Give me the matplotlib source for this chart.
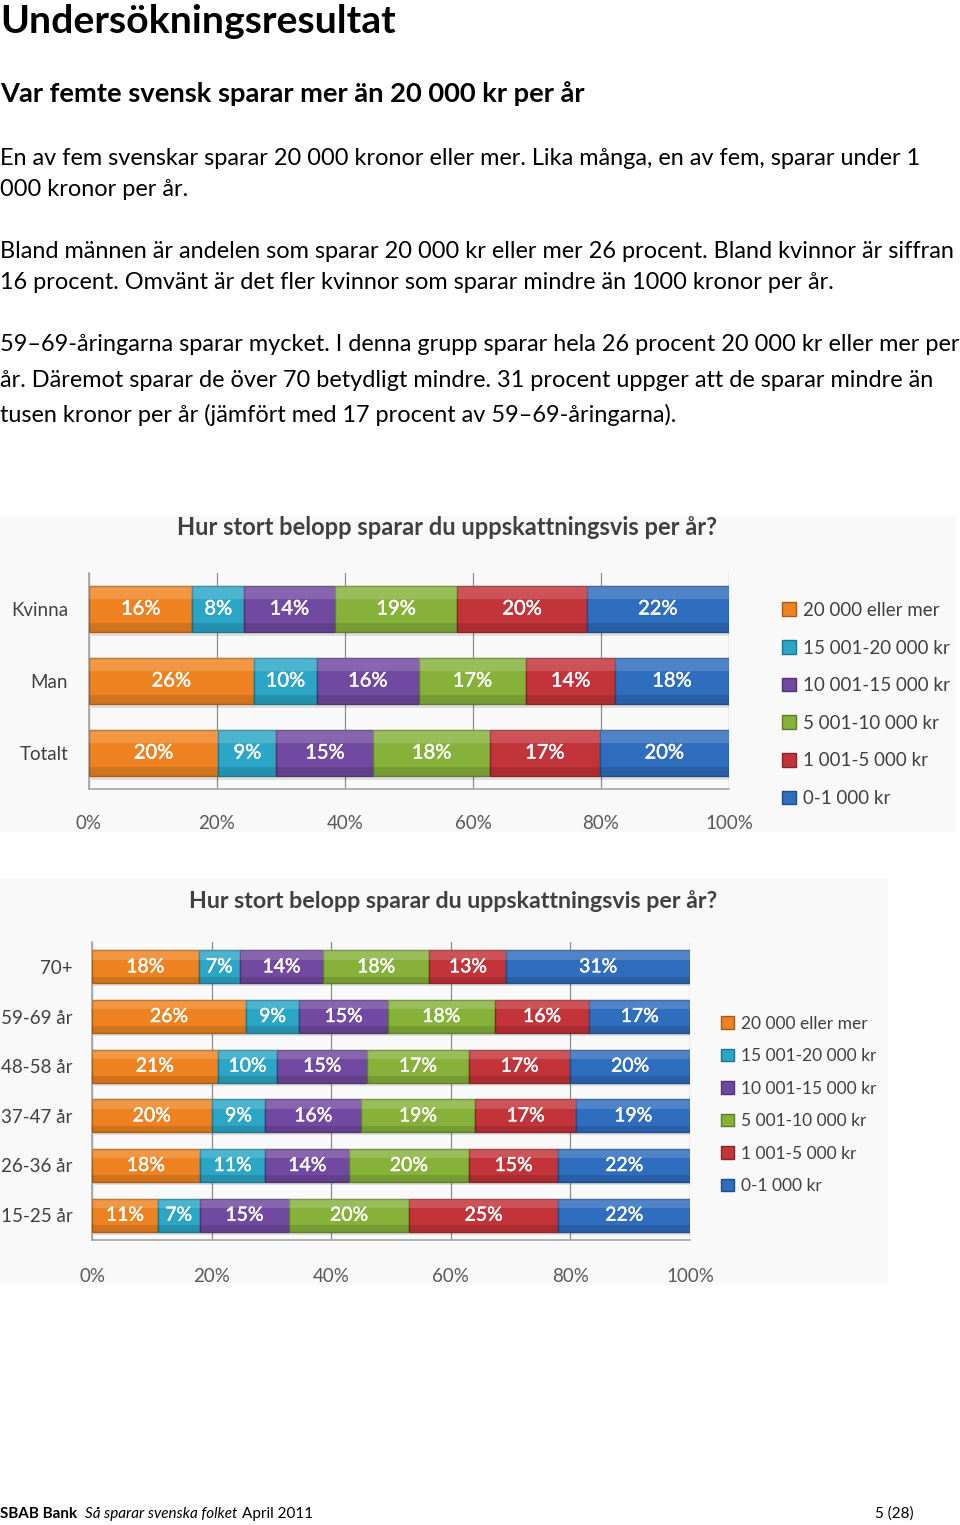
import matplotlib
matplotlib.use("Agg")
import matplotlib.pyplot as plt
import matplotlib.patches as mpatches
import matplotlib.patheffects as pe
import numpy as np

plt.rcParams['font.family'] = ['Lato', 'DejaVu Sans']

# ---------------- data ----------------
series_labels = ["20 000 eller mer", "15 001-20 000 kr", "10 001-15 000 kr",
                 "5 001-10 000 kr", "1 001-5 000 kr", "0-1 000 kr"]
series_colors = ["#EF8220", "#2BA6C6", "#7149A0", "#86B23A", "#C3343A", "#2F6DBE"]

gender_cats = ["Kvinna", "Man", "Totalt"]
gender_20000 = [16, 26, 20]
gender_15001 = [8, 10, 9]
gender_10001 = [14, 16, 15]
gender_5001 = [19, 17, 18]
gender_1001 = [20, 14, 17]
gender_0 = [22, 18, 20]

age_cats = ["70+", "59-69 år", "48-58 år", "37-47 år", "26-36 år", "15-25 år"]
age_20000 = [18, 26, 21, 20, 18, 11]
age_15001 = [7, 9, 10, 9, 11, 7]
age_10001 = [14, 15, 15, 16, 14, 15]
age_5001 = [18, 18, 17, 19, 20, 20]
age_1001 = [13, 16, 17, 17, 15, 25]
age_0 = [31, 17, 20, 19, 22, 22]

xticks = [0, 20, 40, 60, 80, 100]
xtick_labels = ["0%", "20%", "40%", "60%", "80%", "100%"]

chart_title = "Hur stort belopp sparar du uppskattningsvis per år?"

heading = "Undersökningsresultat"
subheading = "Var femte svensk sparar mer än 20 000 kr per år"
body_lines = [
    "En av fem svenskar sparar 20 000 kronor eller mer. Lika många, en av fem, sparar under 1",
    "000 kronor per år.",
    "Bland männen är andelen som sparar 20 000 kr eller mer 26 procent. Bland kvinnor är siffran",
    "16 procent. Omvänt är det fler kvinnor som sparar mindre än 1000 kronor per år.",
    "59–69-åringarna sparar mycket. I denna grupp sparar hela 26 procent 20 000 kr eller mer per",
    "år. Däremot sparar de över 70 betydligt mindre. 31 procent uppger att de sparar mindre än",
    "tusen kronor per år (jämfört med 17 procent av 59–69-åringarna).",
]

# ---------------- layout ----------------
W, H = 960, 1525
fig = plt.figure(figsize=(W / 100, H / 100), dpi=100)
fig.patch.set_facecolor("white")
renderer = fig.canvas.get_renderer()


def fx(x):
    return x / W


def fy(y):
    return 1 - y / H


def fit_text(x, y, s, width, ha="left", **kw):
    t = fig.text(fx(x), fy(y), s, ha=ha, va="baseline", fontsize=10, **kw)
    w = t.get_window_extent(renderer).width
    fs = 10 * width / w
    t.set_fontsize(fs)
    return t, fs


fit_text(0, 33, heading, 398, weight="bold", color="black")
fit_text(0, 102, subheading, 590, weight="bold", color="black")
_, body_fs = fit_text(0, 258, body_lines[2], 957, color="black")
body_base = [165, 196, 258, 289, 351, 387, 422]
for i, (line, yb) in enumerate(zip(body_lines, body_base)):
    if i == 2:
        continue
    fig.text(fx(0), fy(yb), line, ha="left", va="baseline", fontsize=body_fs, color="black")

# chart backgrounds
fig.patches.append(mpatches.Rectangle((fx(0), fy(832)), fx(956), (832 - 515) / H,
                                      transform=fig.transFigure, facecolor="#f9f9f9",
                                      edgecolor="none", zorder=-5))
fig.patches.append(mpatches.Rectangle((fx(0), fy(1285)), fx(888), (1285 - 878) / H,
                                      transform=fig.transFigure, facecolor="#f9f9f9",
                                      edgecolor="none", zorder=-5))


def shade(c, f):
    c = np.array(matplotlib.colors.to_rgb(c))
    return tuple(np.clip(c * f, 0, 1))


def draw_chart(rect, cats, series, bar_h, label_fs, cat_fs, tick_fs, cat_pad, tick_pad):
    ax = fig.add_axes(rect, zorder=2)
    ax.set_facecolor("none")
    n = len(cats)
    y = np.arange(n)[::-1]
    totals = np.sum(np.array(series, dtype=float), axis=0)
    left = np.zeros(n)
    for vals, col, lab in zip(series, series_colors, series_labels):
        raw = np.array(vals, dtype=float)
        share = raw / totals * 100  # 100 % stacked
        ax.barh(y - 0.06, share, left=left + 0.35, height=bar_h, color="#000000",
                alpha=0.10, zorder=2, linewidth=0)
        cont = ax.barh(y, share, left=left, height=bar_h, color=col,
                       edgecolor=shade(col, 0.72), linewidth=1.0, zorder=3)
        ax.barh(y + bar_h * 0.36, share, left=left, height=bar_h * 0.28,
                color="white", alpha=0.16, zorder=4, linewidth=0)
        ax.barh(y - bar_h * 0.40, share, left=left, height=bar_h * 0.2,
                color="black", alpha=0.12, zorder=4, linewidth=0)
        txts = ax.bar_label(cont, labels=[f"{int(v)}%" for v in raw], label_type="center",
                            color="white", fontsize=label_fs, zorder=6)
        for t in txts:
            t.set_path_effects([pe.withStroke(linewidth=0.3, foreground="white")])
        left += share
    ax.set_xlim(0, 100)
    ax.set_ylim(-0.5, n - 0.5)
    ax.set_xticks(xticks)
    ax.set_xticklabels(xtick_labels, fontsize=tick_fs, color="#595959")
    ax.set_yticks(y)
    ax.set_yticklabels(cats, fontsize=cat_fs, color="#404040")
    ax.tick_params(axis="x", length=0, pad=tick_pad)
    ax.tick_params(axis="y", length=0, pad=cat_pad)
    ax.grid(axis="x", color="#8c8c8c", linewidth=0.9, zorder=0)
    ax.set_axisbelow(True)
    for s in ["top", "right"]:
        ax.spines[s].set_visible(False)
    for s in ["left", "bottom"]:
        ax.spines[s].set_color("#a6a6a6")
        ax.spines[s].set_linewidth(1.2)
    return ax


# chart 1
ax1 = draw_chart([fx(89), fy(789), (729 - 89) / W, (789 - 573) / H], gender_cats,
                 [gender_20000, gender_15001, gender_10001, gender_5001, gender_1001, gender_0],
                 bar_h=0.64, label_fs=14.5, cat_fs=13.5, tick_fs=13.5, cat_pad=15, tick_pad=19)
fit_text(447, 535, chart_title, 539, ha="center", weight="bold", color="#404040")

# chart 2
ax2 = draw_chart([fx(92), fy(1240), (690 - 92) / W, (1240 - 942) / H], age_cats,
                 [age_20000, age_15001, age_10001, age_5001, age_1001, age_0],
                 bar_h=0.66, label_fs=14, cat_fs=13.5, tick_fs=13.5, cat_pad=14, tick_pad=20)
fit_text(453, 908, chart_title, 533, ha="center", weight="bold", color="#404040")


def legend_handles():
    return [mpatches.Patch(facecolor=c, edgecolor=shade(c, 0.7), label=l)
            for c, l in zip(series_colors, series_labels)]


leg1 = fig.legend(handles=legend_handles(), loc="upper left",
                  bbox_to_anchor=(fx(765), fy(585)), frameon=False, fontsize=13.5,
                  labelspacing=1.1, handlelength=0.75, handleheight=0.75,
                  handletextpad=0.4, labelcolor="#404040")
leg2 = fig.legend(handles=legend_handles(), loc="upper left",
                  bbox_to_anchor=(fx(705), fy(1000)), frameon=False, fontsize=12.5,
                  labelspacing=0.95, handlelength=0.75, handleheight=0.75,
                  handletextpad=0.4, labelcolor="#404040")

# footer
t1 = fig.text(fx(0), fy(1518), "SBAB Bank", fontsize=11, weight="bold", ha="left", va="baseline")
fig.canvas.draw()
x1 = t1.get_window_extent(renderer).x1
t2 = fig.text((x1 + 8) / W, fy(1518), "Så sparar svenska folket", fontsize=11, style="italic",
              ha="left", va="baseline")
x2 = t2.get_window_extent(renderer).x1
fig.text((x2 + 4) / W, fy(1518), "April 2011", fontsize=11, ha="left", va="baseline")
fig.text(fx(914), fy(1518), "5 (28)", fontsize=11, ha="right", va="baseline")

fig.savefig("out.png", dpi=100, facecolor="white")
